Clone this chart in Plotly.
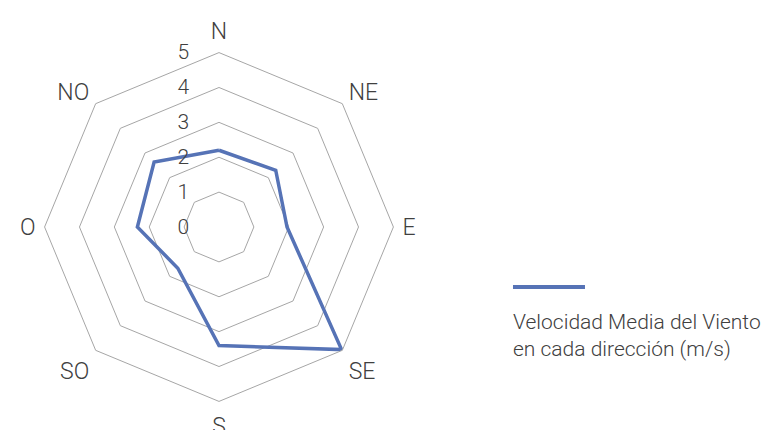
import plotly.graph_objects as go


# -------------------------------------------------------
# Datos
# -------------------------------------------------------

direcciones = ["N", "NE", "E", "SE", "S", "SO", "O", "NO"]

velocidad = [2.2, 2.3, 1.95, 4.97, 3.4, 1.67, 2.34, 2.63]

radial_ticks = [0, 1, 2, 3, 4, 5]

serie_nombre = "Velocidad Media del Viento<br>en cada dirección (m/s)"


# -------------------------------------------------------
# Figura
# -------------------------------------------------------

FONT = "Roboto"
TEXT = "#404040"
BLUE = "#5673b6"

fig = go.Figure()

fig.add_trace(
    go.Scatterpolar(
        r=velocidad + velocidad[:1],
        theta=direcciones + direcciones[:1],
        mode="lines",
        line=dict(color=BLUE, width=3.5),
        name=serie_nombre,
        showlegend=False
    )
)

fig.update_layout(
    width=775,
    height=430,
    margin=dict(l=0, r=0, t=0, b=0),
    paper_bgcolor="white",
    plot_bgcolor="white",
    font=dict(family=FONT, color=TEXT, weight=300),
    polar=dict(
        domain=dict(x=[0.0472, 0.4973], y=[0.0851, 0.8963]),
        bgcolor="white",
        gridshape="linear",
        radialaxis=dict(
            range=[0, 5],
            tickvals=radial_ticks,
            angle=90,
            side="counterclockwise",
            tickangle=90,
            showline=False,
            ticks="outside",
            ticklen=22,
            tickcolor="rgba(0,0,0,0)",
            gridcolor="#a6a6a6",
            gridwidth=1,
            tickfont=dict(size=21, color=TEXT)
        ),
        angularaxis=dict(
            rotation=90,
            direction="clockwise",
            showgrid=False,
            showline=True,
            linecolor="#a6a6a6",
            linewidth=1,
            ticks="outside",
            ticklen=4,
            tickcolor="rgba(0,0,0,0)",
            tickfont=dict(size=23, color=TEXT)
        )
    )
)

# legend key drawn beside the chart (line above two-line label)
fig.add_shape(
    type="line",
    xref="paper", yref="paper",
    x0=0.6516, x1=0.7445, y0=0.351, y1=0.351,
    line=dict(color=BLUE, width=4)
)

fig.add_annotation(
    text=serie_nombre,
    xref="paper", yref="paper",
    x=0.649, y=0.303,
    xanchor="left", yanchor="top",
    align="left",
    showarrow=False,
    font=dict(family=FONT, size=21, color=TEXT, weight=300)
)

fig.write_html("out.html")
